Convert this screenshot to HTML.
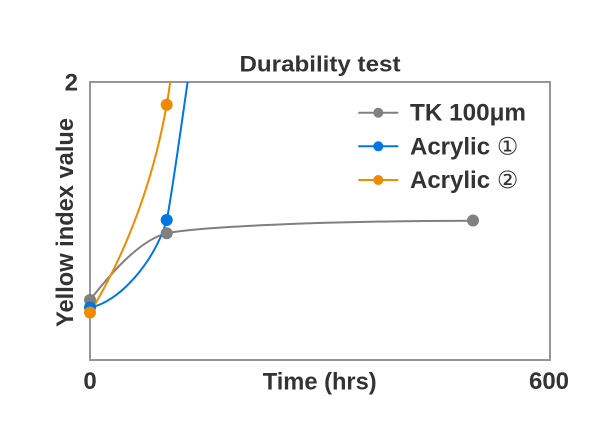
<!DOCTYPE html>
<html>
<head>
<meta charset="utf-8">
<style>
  html, body { margin: 0; padding: 0; background: #ffffff; }
  body { width: 600px; height: 440px; overflow: hidden; }
  svg { display: block; }
  text { font-family: "Liberation Sans", "DejaVu Sans", sans-serif; fill: #333333; font-weight: bold; }
  .circ { font-family: "DejaVu Sans", "Liberation Sans", sans-serif; font-weight: normal; }
</style>
</head>
<body>
<svg width="600" height="440" viewBox="0 0 600 440" xmlns="http://www.w3.org/2000/svg">
  <defs>
    <clipPath id="plot">
      <rect x="90" y="82" width="460" height="278"/>
    </clipPath>
  </defs>
  <rect x="0" y="0" width="600" height="440" fill="#ffffff"/>

  <!-- Title -->
  <text x="320" y="71.5" font-size="22" text-anchor="middle" textLength="161" lengthAdjust="spacingAndGlyphs">Durability test</text>

  <!-- Frame -->
  <rect x="90" y="82" width="460" height="278" fill="none" stroke="#969696" stroke-width="2"/>

  <!-- Series lines -->
  <g clip-path="url(#plot)" fill="none" stroke-width="2">
    <path d="M90,300 C112,272 140,240 166.7,233.3 C195,227 320,221 473,220.7" stroke="#808080"/>
    <path d="M90,307.5 C118,303 155,262 166.7,220 C170,206 178,150 190,65" stroke="#0077e0"/>
    <path d="M90,312.5 C115,272 150,200 166.7,104.7 C168.5,95 170,85 171.5,70" stroke="#f08a00"/>
  </g>

  <!-- Markers -->
  <g fill="#808080">
    <circle cx="90" cy="300" r="6"/>
    <circle cx="166.7" cy="233.3" r="6"/>
    <circle cx="473" cy="220.5" r="6"/>
  </g>
  <g fill="#0077e0">
    <circle cx="90" cy="307.5" r="6"/>
    <circle cx="166.7" cy="220" r="6"/>
  </g>
  <g fill="#f08a00">
    <circle cx="90" cy="312.5" r="6"/>
    <circle cx="166.7" cy="104.7" r="6"/>
  </g>

  <!-- Legend -->
  <g stroke-width="2">
    <line x1="358.3" y1="112.7" x2="398.3" y2="112.7" stroke="#808080"/>
    <line x1="358.3" y1="146.3" x2="398.3" y2="146.3" stroke="#0077e0"/>
    <line x1="358.3" y1="180" x2="398.3" y2="180" stroke="#f08a00"/>
  </g>
  <circle cx="378.3" cy="112.7" r="5" fill="#808080"/>
  <circle cx="378.3" cy="146.3" r="5" fill="#0077e0"/>
  <circle cx="378.3" cy="180" r="5" fill="#f08a00"/>
  <text x="410" y="120.7" font-size="24" textLength="116" lengthAdjust="spacingAndGlyphs">TK 100μm</text>
  <text x="410" y="154.3" font-size="24">Acrylic <tspan class="circ">①</tspan></text>
  <text x="410" y="188" font-size="24">Acrylic <tspan class="circ">②</tspan></text>

  <!-- Axis tick labels -->
  <text x="78" y="90.5" font-size="24" text-anchor="end">2</text>
  <text x="90" y="389" font-size="24" text-anchor="middle">0</text>
  <text x="549" y="389" font-size="24" text-anchor="middle">600</text>

  <!-- Axis titles -->
  <text x="319.7" y="389.5" font-size="24" text-anchor="middle" textLength="114" lengthAdjust="spacingAndGlyphs">Time (hrs)</text>
  <text transform="translate(73,222.5) rotate(-90)" x="0" y="0" font-size="24" text-anchor="middle" textLength="209" lengthAdjust="spacingAndGlyphs">Yellow index value</text>
</svg>
</body>
</html>
